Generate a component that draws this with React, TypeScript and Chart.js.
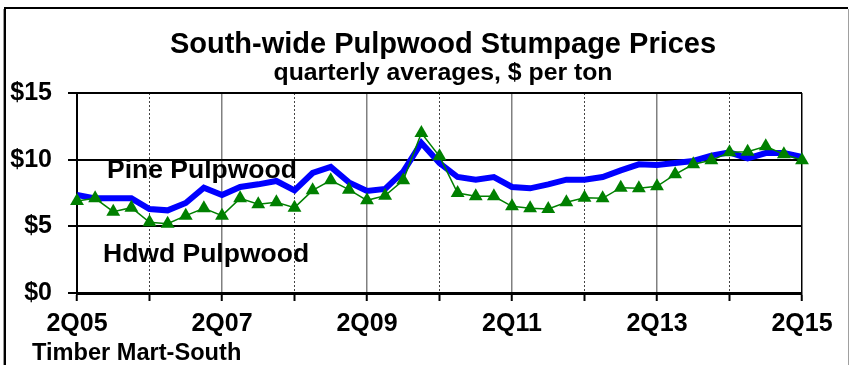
import React, { useEffect, useRef } from "react";
import { Chart, registerables } from "chart.js";

Chart.register(...registerables);

const quarters: string[] = [];
for (let i = 0; i < 41; i++) {
  const q = ((1 + i) % 4) + 1;
  const y = 2005 + Math.floor((1 + i) / 4);
  quarters.push(q + "Q" + String(y % 100).padStart(2, "0"));
}

const pinePulpwood = [7.35, 7.1, 7.1, 7.1, 6.3, 6.2, 6.75, 7.9, 7.35, 7.95, 8.15, 8.4, 7.7, 9.0, 9.45, 8.3, 7.65, 7.8, 9.1, 11.25, 9.75, 8.7, 8.5, 8.7, 7.95, 7.85, 8.15, 8.5, 8.5, 8.7, 9.2, 9.65, 9.6, 9.75, 9.9, 10.3, 10.55, 10.1, 10.5, 10.5, 10.2];
const hdwdPulpwood = [6.9, 7.1, 6.1, 6.4, 5.3, 5.2, 5.8, 6.35, 5.8, 7.1, 6.65, 6.8, 6.4, 7.7, 8.45, 7.75, 6.95, 7.3, 8.45, 12.0, 10.25, 7.5, 7.25, 7.25, 6.5, 6.35, 6.3, 6.8, 7.15, 7.1, 7.9, 7.85, 8.0, 8.9, 9.65, 9.95, 10.55, 10.6, 11.0, 10.4, 9.95];

const title = "South-wide Pulpwood Stumpage Prices";
const subtitle = "quarterly averages, $ per ton";
const source = "Timber Mart-South";
const pineLabel = "Pine Pulpwood";
const hdwdLabel = "Hdwd Pulpwood";

const FONT = '"Liberation Sans", Arial, sans-serif';

const decorPlugin = {
  id: "decor",
  beforeDraw(chart: any) {
    const ctx = chart.ctx;
    ctx.save();
    ctx.fillStyle = "#ffffff";
    ctx.fillRect(0, 0, chart.width, chart.height);
    ctx.fillStyle = "#000000";
    ctx.fillRect(5, 7, 843, 2);
    ctx.fillStyle = "#999999";
    ctx.fillRect(3, 9, 1, 356);
    ctx.fillStyle = "#000000";
    ctx.fillRect(4, 7, 2, 358);
    ctx.fillStyle = "#a0a0a0";
    ctx.fillRect(848, 9, 1, 356);
    ctx.restore();
  },
  afterDraw(chart: any) {
    const ctx = chart.ctx;
    ctx.save();
    ctx.fillStyle = "#000000";
    ctx.textBaseline = "alphabetic";
    ctx.textAlign = "center";
    ctx.font = "bold 29px " + FONT;
    ctx.fillText(title, 443, 53);
    ctx.font = "bold 24.8px " + FONT;
    ctx.fillText(subtitle, 443, 80);
    ctx.textAlign = "left";
    ctx.font = "bold 26.5px " + FONT;
    ctx.fillText(pineLabel, 107, 178);
    ctx.fillText(hdwdLabel, 103, 262);
    ctx.font = "bold 23.6px " + FONT;
    ctx.fillText(source, 32, 360);
    ctx.restore();
  },
};

export default function App() {
  const ref = useRef<HTMLCanvasElement>(null);
  useEffect(() => {
    if (!ref.current) return;
    const chart = new Chart(ref.current, {
      type: "line",
      data: {
        labels: quarters,
        datasets: [
          {
            label: hdwdLabel,
            data: hdwdPulpwood,
            borderColor: "#008000",
            backgroundColor: "#008000",
            borderWidth: 1.5,
            pointStyle: "triangle",
            pointRadius: 8,
            pointBorderWidth: 0,
            tension: 0,
            order: 0,
          },
          {
            label: pineLabel,
            data: pinePulpwood,
            borderColor: "#0000ff",
            borderWidth: 6,
            pointRadius: 0,
            tension: 0,
            order: 1,
          },
        ],
      },
      options: {
        responsive: false,
        animation: false,
        layout: { padding: { top: 93, right: 48, left: 0, bottom: 0 } },
        plugins: { legend: { display: false }, tooltip: { enabled: false }, title: { display: false } },
        scales: {
          x: {
            type: "category",
            offset: false,
            afterFit: (s: any) => { s.height = 72; },
            grid: {
              color: (c: any) => {
                const i = c.index;
                if (i === 0 || i === 40) return "#000000";
                if (i % 8 === 0) return "#808080";
                if (i % 4 === 0) return "#444444";
                return "rgba(0,0,0,0)";
              },
              lineWidth: (c: any) => (c.index % 8 === 0 ? 1.5 : 1),
              tickColor: (c: any) => (c.index % 4 === 0 ? "#000000" : "rgba(0,0,0,0)"),
              tickWidth: 2,
              tickLength: 8,
              drawOnChartArea: true,
            },
            border: {
              display: true,
              color: "#000000",
              width: 3,
              dash: (c: any) => (c && c.type === "tick" && c.index % 8 === 4 ? [2, 2] : []),
            },
            ticks: {
              autoSkip: false,
              maxRotation: 0,
              minRotation: 0,
              padding: 8,
              color: "#000000",
              font: { family: FONT, size: 25, weight: "bold" },
              callback: (_v: any, i: number) => (i % 8 === 0 ? quarters[i] : ""),
            },
          },
          y: {
            min: 0,
            max: 15,
            afterFit: (s: any) => { s.width = 77; },
            grid: {
              color: "#000000",
              lineWidth: 2,
              tickColor: "#000000",
              tickWidth: 2,
              tickLength: 9,
            },
            border: { display: true, color: "#000000", width: 2 },
            ticks: {
              stepSize: 5,
              padding: 16,
              color: "#000000",
              font: { family: FONT, size: 25, weight: "bold" },
              callback: (v: any) => "$" + v,
            },
          },
        },
      },
      plugins: [decorPlugin],
    } as any);
    return () => chart.destroy();
  }, []);
  return (
    <div style={{ position: "fixed", left: 0, top: 0, width: 850, height: 365, background: "#fff" }}>
      <canvas ref={ref} width={850} height={365} style={{ display: "block" }} />
    </div>
  );
}
